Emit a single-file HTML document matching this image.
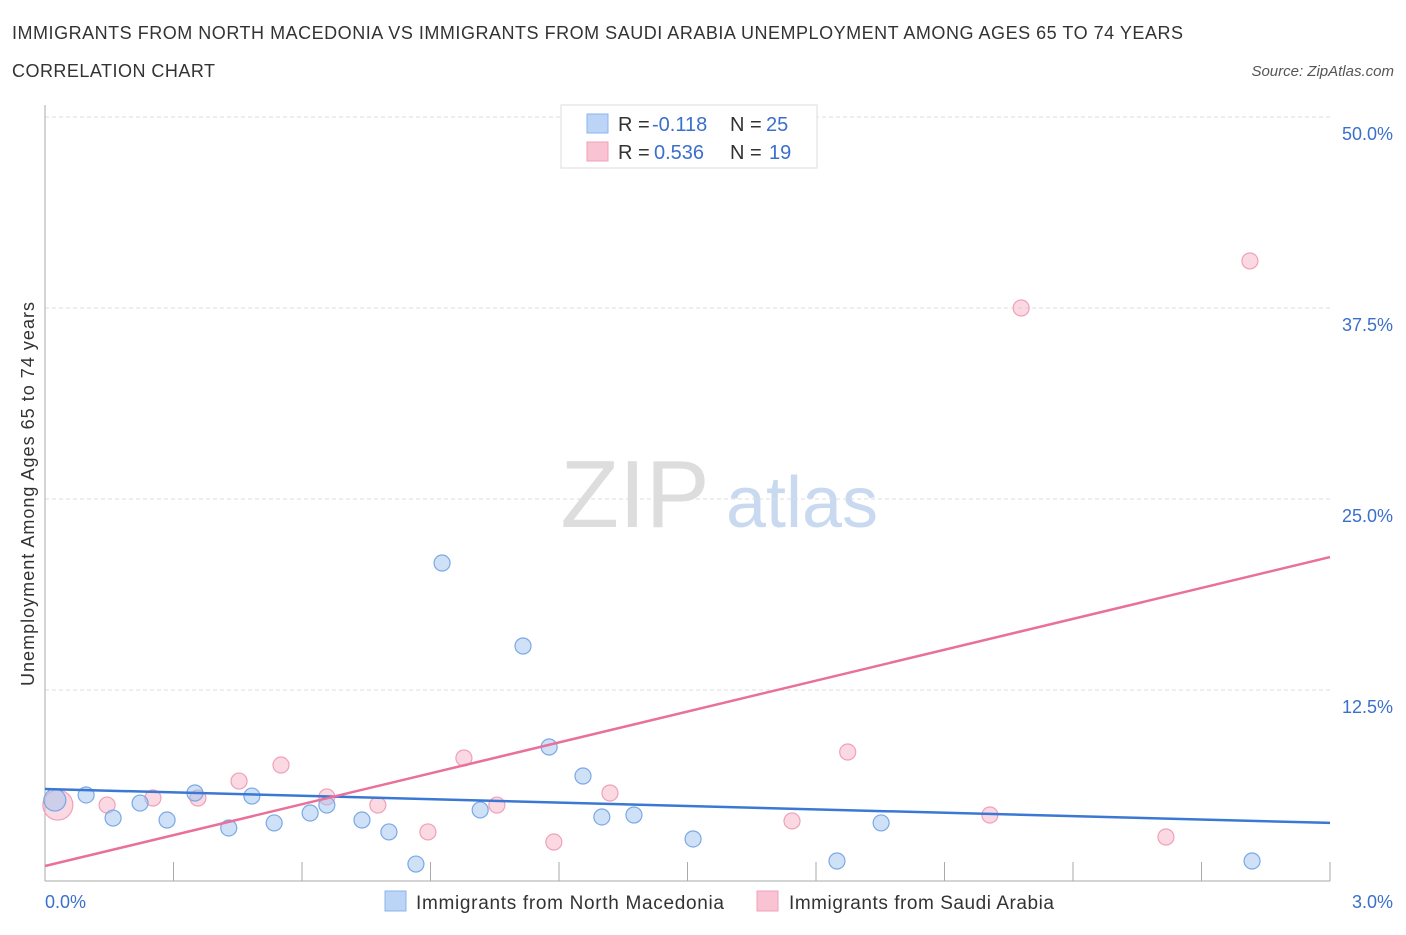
<!DOCTYPE html>
<html><head><meta charset="utf-8"><style>
body{margin:0;background:#fff;font-family:"Liberation Sans",sans-serif;}
svg text{font-family:"Liberation Sans",sans-serif;}
</style></head><body>
<svg id="c" width="1406" height="930" xmlns="http://www.w3.org/2000/svg">
<text x="12" y="39" font-size="18" fill="#333" textLength="1171">IMMIGRANTS FROM NORTH MACEDONIA VS IMMIGRANTS FROM SAUDI ARABIA UNEMPLOYMENT AMONG AGES 65 TO 74 YEARS</text>
<text x="12" y="77" font-size="18" fill="#333" textLength="203">CORRELATION CHART</text>
<text x="1394" y="76" font-size="15" fill="#555" font-style="italic" text-anchor="end">Source: ZipAtlas.com</text>
<g>
<text x="635" y="527" font-size="96" fill="#ddd" text-anchor="middle" font-family="Liberation Serif">ZIP</text>
<text x="802" y="527" font-size="72" fill="#c9daf0" text-anchor="middle">atlas</text>
</g>
<g id="grid"></g>
<g id="marks"></g>
<g>
<rect x="561" y="105" width="256" height="63" fill="#fff" stroke="#ddd"/>
<rect x="587" y="114" width="21" height="19" fill="#bcd4f6" stroke="#8ab4ec"/>
<rect x="587" y="142" width="21" height="19" fill="#f9c3d3" stroke="#f0a0b8"/>
<text x="618" y="131" font-size="20" fill="#333">R =</text>
<text x="652" y="131" font-size="20" fill="#3a6fcc">-0.118</text>
<text x="730" y="131" font-size="20" fill="#333">N =</text>
<text x="766" y="131" font-size="20" fill="#3a6fcc">25</text>
<text x="618" y="159" font-size="20" fill="#333">R =</text>
<text x="654" y="159" font-size="20" fill="#3a6fcc">0.536</text>
<text x="730" y="159" font-size="20" fill="#333">N =</text>
<text x="769" y="159" font-size="20" fill="#3a6fcc">19</text>
</g>
<text transform="translate(34,494) rotate(-90)" font-size="18" fill="#333" text-anchor="middle" textLength="384">Unemployment Among Ages 65 to 74 years</text>
<text x="45" y="908" font-size="18" fill="#3a6fcc">0.0%</text>
<text x="1393" y="908" font-size="18" fill="#3a6fcc" text-anchor="end">3.0%</text>
<g>
<rect x="385" y="891" width="21" height="20" fill="#bcd4f6" stroke="#8ab4ec"/>
<text x="416" y="909" font-size="19" fill="#333" textLength="308">Immigrants from North Macedonia</text>
<rect x="757" y="891" width="21" height="20" fill="#f9c3d3" stroke="#f0a0b8"/>
<text x="789" y="909" font-size="19" fill="#333" textLength="265">Immigrants from Saudi Arabia</text>
</g>
</svg>
<script>
const yTicks=[12.5,25,37.5,50];
const xTicks=[0,0.3,0.6,0.9,1.2,1.5,1.8,2.1,2.4,2.7,3.0];
const blueX=[0.023,0.096,0.159,0.222,0.285,0.350,0.429,0.483,0.535,0.619,0.658,0.740,0.803,0.866,0.927,1.016,1.116,1.177,1.256,1.300,1.375,1.513,1.849,1.952,2.818];
const blueY=[5.30,5.63,4.12,5.10,3.99,5.76,3.47,5.56,3.80,4.45,4.97,3.99,3.21,1.11,20.81,4.65,15.38,8.77,6.87,4.19,4.32,2.75,1.31,3.80,1.31];
const pinkX=[0.030,0.145,0.252,0.357,0.453,0.551,0.658,0.777,0.894,0.978,1.055,1.188,1.319,1.744,1.874,2.206,2.279,2.617,2.813];
const pinkY=[4.97,4.97,5.43,5.43,6.54,7.59,5.50,4.97,3.21,8.05,4.97,2.55,5.76,3.93,8.44,4.32,37.50,2.88,40.58];
const blueTrend=[6.02,3.80];
const pinkTrend=[0.98,21.2];
const NS="http://www.w3.org/2000/svg";
const X=v=>45+v/3*1285, Y=v=>881-v/50*764;
function mk(p,t,a){const e=document.createElementNS(NS,t);for(const k in a)e.setAttribute(k,a[k]);p.appendChild(e);return e;}
const g=document.getElementById('grid'),m=document.getElementById('marks');
yTicks.forEach(t=>{
 const l=mk(g,'line',{x1:45,x2:1330,y1:Y(t),y2:Y(t),stroke:'#ddd','stroke-dasharray':'4,3'});
 
 
 const tx=mk(g,'text',{x:1393,y:Y(t)+23,'font-size':18,fill:'#3a6fcc','text-anchor':'end'});
 tx.textContent=t.toFixed(1)+'%';
 
 
});
const ax=mk(g,'line',{x1:45,x2:1330,y1:881,y2:881,stroke:'#aaa'});


const ay=mk(g,'line',{x1:45,x2:45,y1:105,y2:881,stroke:'#aaa'});


xTicks.forEach(t=>{
 const l=mk(g,'line',{x1:X(t),x2:X(t),y1:862,y2:881,stroke:'#aaa'});
 
 
});
pinkX.forEach((v,i)=>{
 const c=mk(m,'circle',{cx:X(v),cy:Y(pinkY[i]),r:i==0?15:8,fill:'rgba(246,180,200,0.5)',stroke:'#f0a0b8','stroke-width':1.2});
 
 
});
blueX.forEach((v,i)=>{
 const c=mk(m,'circle',{cx:X(v),cy:Y(blueY[i]),r:i==0?11:8,fill:'rgba(160,196,240,0.5)',stroke:'#7aa8e6','stroke-width':1.2});
 
 
});
const bl=mk(m,'line',{x1:X(0),x2:X(3),y1:Y(blueTrend[0]),y2:Y(blueTrend[1]),stroke:'#3a78d4','stroke-width':2.5});


const pl=mk(m,'line',{x1:X(0),x2:X(3),y1:Y(pinkTrend[0]),y2:Y(pinkTrend[1]),stroke:'#e8709a','stroke-width':2.5});


</script>
</body></html>
